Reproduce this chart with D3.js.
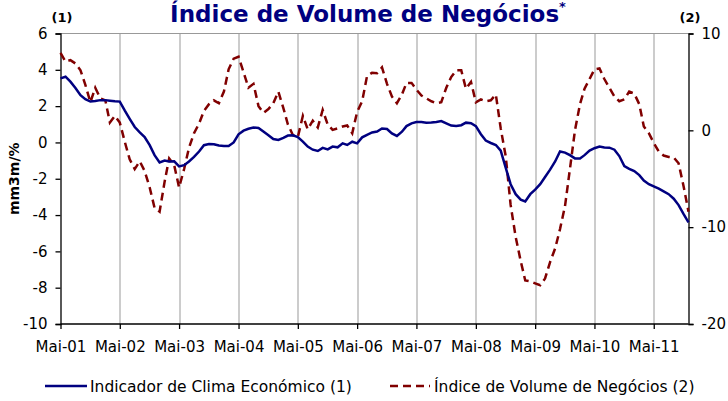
<!DOCTYPE html>
<html>
<head>
<meta charset="utf-8">
<title>Índice de Volume de Negócios</title>
<style>
body { margin: 0; background: #fff; }
svg text { font-family: Tahoma, "DejaVu Sans", sans-serif; fill: #000; }
.tick text { font-size: 15px; }
.grid line { stroke: #999; stroke-width: 1; }
</style>
</head>
<body>
<script src="https://cdn.jsdelivr.net/npm/d3@7"></script>
<script>

// monthly series, Mai-01 .. Dez-11
var startYear = 2001, startMonth = 4

var clima = [
    3.53, 3.62, 3.35, 3.0, 2.6, 2.38, 2.25, 2.28, 2.33, 2.33, 2.3, 2.27,
    2.25, 1.75, 1.3, 0.85, 0.55, 0.3, -0.15, -0.7, -1.1, -1.0, -1.05, -1.04,
    -1.32, -1.25, -1.05, -0.8, -0.5, -0.15, -0.09, -0.1, -0.17, -0.2, -0.2, 0.0,
    0.45, 0.65, 0.75, 0.82, 0.8, 0.6, 0.4, 0.19, 0.14, 0.25, 0.38, 0.39,
    0.3, 0.05, -0.23, -0.4, -0.47, -0.3, -0.38, -0.23, -0.27, -0.05, -0.14, 0.04,
    -0.05, 0.28, 0.42, 0.55, 0.6, 0.77, 0.74, 0.5, 0.36, 0.59, 0.9, 1.05,
    1.12, 1.12, 1.09, 1.1, 1.13, 1.18, 1.05, 0.93, 0.91, 0.95, 1.09, 1.06,
    0.9, 0.45, 0.1, -0.03, -0.14, -0.45, -1.4, -2.3, -2.85, -3.15, -3.25, -2.85,
    -2.6, -2.3, -1.9, -1.5, -1.05, -0.5, -0.56, -0.7, -0.88, -0.88, -0.7, -0.45,
    -0.32, -0.23, -0.28, -0.29, -0.4, -0.75, -1.3, -1.45, -1.58, -1.8, -2.1, -2.3,
    -2.42, -2.55, -2.7, -2.85, -3.1, -3.45, -3.95, -4.4
]

var volume = [
    8.0, 7.1, 7.25, 6.9, 6.2, 4.7, 2.9, 4.4, 3.3, 3.1, 0.8, 1.5,
    0.8, -1.2, -3.0, -4.0, -3.2, -4.2, -5.9, -8.0, -8.4, -5.3, -2.9, -3.6,
    -5.9, -4.0, -1.8, -0.3, 0.7, 2.0, 2.7, 3.1, 2.8, 4.0, 6.3, 7.4,
    7.6, 6.0, 4.4, 4.8, 2.5, 1.8, 2.2, 2.8, 4.0, 2.3, 0.6, -0.5,
    -0.7, 1.5, 0.1, 1.0, 0.3, 2.1, 0.6, 0.05, 0.2, 0.4, 0.5, -0.3,
    1.9, 3.0, 5.6, 5.95, 5.9, 6.5, 4.8, 3.5, 2.8, 3.7, 4.9, 4.9,
    4.2, 3.6, 3.3, 3.0, 2.8, 2.9, 4.4, 5.5, 6.2, 6.2, 4.3, 5.0,
    2.9, 3.2, 3.0, 3.1, 3.7, 0.2, -2.7, -7.7, -11.0, -13.5, -15.5, -15.6,
    -15.8, -16.0, -15.3, -13.6, -12.2, -10.2, -7.8, -4.0, 0.0, 2.7, 4.3, 5.3,
    6.3, 6.4, 5.3, 4.4, 3.5, 3.0, 3.2, 4.0, 3.8, 2.7, 0.4, -0.3,
    -1.3, -2.2, -2.6, -2.75, -2.8, -3.4, -5.8, -8.4
]

var leftTicks = [-10, -8, -6, -4, -2, 0, 2, 4, 6]
var rightTicks = [-20, -10, 0, 10]
var xTickLabels = ['Mai-01', 'Mai-02', 'Mai-03', 'Mai-04', 'Mai-05', 'Mai-06',
    'Mai-07', 'Mai-08', 'Mai-09', 'Mai-10', 'Mai-11']

var seriesNames = ['Indicador de Clima Económico (1)', 'Índice de Volume de Negócios (2)']

var width = 728,
    height = 401,
    margin = {top: 33.5, right: 39.5, bottom: 77, left: 60.5},
    w = width - margin.left - margin.right,
    h = height - margin.top - margin.bottom

var dates = clima.map(function(d, i){
    return new Date(startYear, startMonth + i, 1)
})

var svg = d3.select('body').append('svg')
    .attr('width', width)
    .attr('height', height)

var g = svg.append('g')
    .attr('transform', 'translate(' + margin.left + ',' + margin.top + ')')

var x = d3.scaleTime()
    .domain([dates[0], dates[dates.length - 1]])
    .range([0, w])

var yL = d3.scaleLinear().domain([-10, 6]).range([h, 0])
var yR = d3.scaleLinear().domain([-20, 10]).range([h, 0])

var xTicks = xTickLabels.map(function(d, i){
    return new Date(startYear + i, startMonth, 1)
})

// vertical grid lines
g.append('g').attr('class', 'grid')
    .selectAll('line').data(xTicks.slice(1)).enter().append('line')
    .attr('x1', function(d){ return Math.round(x(d)) + 0.5 })
    .attr('x2', function(d){ return Math.round(x(d)) + 0.5 })
    .attr('y1', 0).attr('y2', h)

// top border
g.append('line')
    .attr('x1', 0).attr('x2', w).attr('y1', 0).attr('y2', 0)
    .attr('stroke', '#999')

// axes, plain hyphen for negatives
var fmt = function(d){ return String(d) }

var xAxis = g.append('g')
    .attr('transform', 'translate(0,' + h + ')')
    .call(d3.axisBottom(x).tickValues(xTicks)
        .tickFormat(function(d, i){ return xTickLabels[i] })
        .tickSize(5).tickPadding(12))

var leftAxis = g.append('g')
    .call(d3.axisLeft(yL).tickValues(leftTicks).tickFormat(fmt).tickSize(5).tickPadding(8))

var rightAxis = g.append('g')
    .attr('transform', 'translate(' + w + ',0)')
    .call(d3.axisRight(yR).tickValues(rightTicks).tickFormat(fmt).tickSize(5).tickPadding(8))

;[xAxis, leftAxis, rightAxis].forEach(function(a){
    a.selectAll('path, line').attr('stroke', '#000').attr('stroke-width', 1.3)
    a.selectAll('text').style('font-size', '15px')
})
xAxis.select('.domain').remove()
g.append('line')
    .attr('x1', 0).attr('x2', w).attr('y1', h).attr('y2', h)
    .attr('stroke', '#000').attr('stroke-width', 1.3)

// lines
var lineL = d3.line()
    .x(function(d, i){ return x(dates[i]) })
    .y(function(d){ return yL(d) })

var lineR = d3.line()
    .x(function(d, i){ return x(dates[i]) })
    .y(function(d){ return yR(d) })

g.append('path').datum(volume)
    .attr('d', lineR)
    .attr('fill', 'none')
    .attr('stroke', '#800000')
    .attr('stroke-width', 2.5)
    .attr('stroke-dasharray', '8,5')

g.append('path').datum(clima)
    .attr('d', lineL)
    .attr('fill', 'none')
    .attr('stroke', '#000080')
    .attr('stroke-width', 2.5)

// title
var title = svg.append('text')
    .attr('x', 368).attr('y', 22)
    .attr('text-anchor', 'middle')
    .style('font-size', '23px')
    .style('font-weight', 'bold')
    .style('fill', '#000080')
title.append('tspan').text('Índice de Volume de Negócios')
title.append('tspan').text('*')
    .attr('dy', -11)
    .style('font-size', '13px')

svg.append('text')
    .attr('x', 62).attr('y', 22)
    .attr('text-anchor', 'middle')
    .style('font-size', '13px').style('font-weight', 'bold')
    .text('(1)')

svg.append('text')
    .attr('x', 690).attr('y', 22)
    .attr('text-anchor', 'middle')
    .style('font-size', '13px').style('font-weight', 'bold')
    .text('(2)')

svg.append('text')
    .attr('transform', 'translate(19,' + (margin.top + h / 2) + ') rotate(-90)')
    .attr('text-anchor', 'middle')
    .style('font-size', '14px').style('font-weight', 'bold')
    .text('mm3m/%')

// legend
var legend = svg.append('g').attr('transform', 'translate(0,386)')

legend.append('line')
    .attr('x1', 45).attr('x2', 87).attr('y1', 0).attr('y2', 0)
    .attr('stroke', '#000080').attr('stroke-width', 2.5)
legend.append('text')
    .attr('x', 90).attr('y', 6)
    .style('font-size', '15.5px')
    .text(seriesNames[0])

legend.append('line')
    .attr('x1', 390).attr('x2', 430).attr('y1', 0).attr('y2', 0)
    .attr('stroke', '#800000').attr('stroke-width', 2.5)
    .attr('stroke-dasharray', '8,5')
legend.append('text')
    .attr('x', 434).attr('y', 6)
    .style('font-size', '15.5px')
    .text(seriesNames[1])

</script>
</body>
</html>
